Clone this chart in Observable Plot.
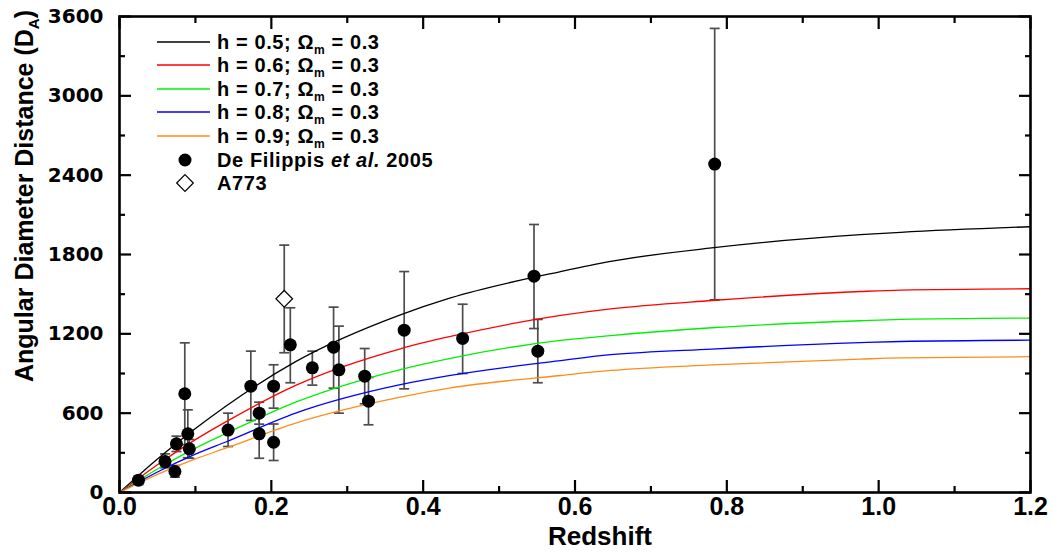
<!DOCTYPE html>
<html><head><meta charset="utf-8">
<script src="https://cdn.jsdelivr.net/npm/d3@7"></script>
<script src="https://cdn.jsdelivr.net/npm/@observablehq/plot@0.6"></script>
<style>body{margin:0;background:#fff} #chart{width:1055px;height:552px}</style>
</head><body><div id="chart"></div>
<script>
// Model curves
const curveZ   = [0, 0.05, 0.10, 0.14, 0.232, 0.37, 0.436, 0.581, 0.647, 0.78, 0.976, 1.029, 1.2];
const curveH05 = [0, 254, 484, 653, 990, 1344, 1472, 1671, 1748, 1850, 1950, 1968, 2010];
const curveH06 = [0, 210, 400, 534, 810, 1087, 1180, 1339, 1389, 1452, 1520, 1531, 1541];
const curveH07 = [0, 178, 336, 446, 683, 930, 1015, 1150, 1187, 1246, 1299, 1309, 1319];
const curveH08 = [0, 155, 290, 382, 600, 815, 885, 998, 1042, 1085, 1133, 1142, 1152];
const curveH09 = [0, 137, 254, 335, 525, 721, 791, 885, 923, 965, 1009, 1018, 1027];
const seriesH = ["0.5", "0.6", "0.7", "0.8", "0.9"];
const seriesColors = ["#000000", "#ff0000", "#00f000", "#0000ff", "#ff8c1a"];

// De Filippis et al. 2005
const deZ  = [0.025,0.060,0.073,0.075,0.086,0.090,0.092,0.143,0.173,0.184,0.184,0.203,0.203,0.225,0.254,0.282,0.289,0.323,0.328,0.375,0.452,0.546,0.551,0.784];
const deDA = [93,234,159,368,747,444,330,472,804,600,444,804,380,1117,943,1099,928,880,691,1228,1165,1636,1069,2484];
const deLo = [60,187,116,310,362,263,259,348,545,517,259,638,242,830,812,789,600,671,512,784,900,1240,830,1457];
const deHi = [125,292,204,426,1132,625,401,600,1069,683,629,966,518,1397,1069,1402,1258,1089,870,1671,1424,2027,1309,3510];

// A773
const a773Z = [0.217], a773DA = [1465], a773Lo = [1057], a773Hi = [1871];

const xMajor = [0,0.2,0.4,0.6,0.8,1.0,1.2];
const xMinor = [0.1,0.3,0.5,0.7,0.9,1.1];
const yMajor = [0,600,1200,1800,2400,3000,3600];
const yMinor = [300,900,1500,2100,2700,3300];

const curves = [curveH05,curveH06,curveH07,curveH08,curveH09];
const curveRows = curves.flatMap((arr,i) => arr.map((d,j) => ({z: curveZ[j], d, s: seriesH[i]})));
const deRows = deZ.map((z,i) => ({z, d: deDA[i], lo: deLo[i], hi: deHi[i]}));
const aRows = a773Z.map((z,i) => ({z, d: a773DA[i], lo: a773Lo[i], hi: a773Hi[i]}));
const errRows = [...deRows, ...aRows];
const capRows = errRows.flatMap(r => [{z: r.z, v: r.lo}, {z: r.z, v: r.hi}]);

const capSymbol = {draw(ctx, size){ const r = Math.sqrt(size/Math.PI); ctx.moveTo(-r,0); ctx.lineTo(r,0); }};

const narrow = "'Liberation Sans Narrow', 'Arial Narrow', 'Liberation Sans', Arial, sans-serif";
const sans = "'Liberation Sans', Arial, sans-serif";

const plot = Plot.plot({
  width: 1055, height: 552,
  marginLeft: 119, marginRight: 25, marginTop: 16, marginBottom: 60,
  x: {domain: [0, 1.2]},
  y: {domain: [0, 3600]},
  color: {domain: seriesH, range: seriesColors},
  style: {background: "white", fontFamily: sans},
  marks: [
    Plot.ruleX(errRows, {x: "z", y1: "lo", y2: "hi", stroke: "#4d4d4d", strokeWidth: 1.7}),
    Plot.dot(capRows, {x: "z", y: "v", symbol: capSymbol, r: 5, stroke: "#4d4d4d", strokeWidth: 1.7}),
    Plot.line(curveRows, {x: "z", y: "d", z: "s", stroke: "s", curve: "monotone-x", strokeWidth: 1.3}),
    Plot.dot(deRows, {x: "z", y: "d", fill: "black", r: 6.5}),
    Plot.dot(aRows, {x: "z", y: "d", symbol: "diamond2", r: 7.5, fill: "white", stroke: "black", strokeWidth: 1.2}),
    // ticks (inward, on all four sides)
    Plot.axisX({ticks: xMajor, tickSize: -12, tickFormat: () => "", strokeWidth: 2.2, label: null}),
    Plot.axisX({ticks: xMinor, tickSize: -6, tickFormat: () => "", strokeWidth: 2.2, label: null}),
    Plot.axisX({anchor: "top", ticks: xMajor, tickSize: -12, tickFormat: () => "", strokeWidth: 2.2, label: null}),
    Plot.axisX({anchor: "top", ticks: xMinor, tickSize: -6, tickFormat: () => "", strokeWidth: 2.2, label: null}),
    Plot.axisY({ticks: yMajor, tickSize: -12, tickFormat: () => "", strokeWidth: 2.2, label: null}),
    Plot.axisY({ticks: yMinor, tickSize: -6, tickFormat: () => "", strokeWidth: 2.2, label: null}),
    Plot.axisY({anchor: "right", ticks: yMajor, tickSize: -12, tickFormat: () => "", strokeWidth: 2.2, label: null}),
    Plot.axisY({anchor: "right", ticks: yMinor, tickSize: -6, tickFormat: () => "", strokeWidth: 2.2, label: null}),
    // tick labels
    Plot.axisX({ticks: xMajor, tickSize: 0, tickPadding: 5, tickFormat: d3.format(".1f"), fontSize: 25, fontWeight: "bold", fontFamily: narrow, fill: "black", label: null}),
    Plot.axisY({ticks: yMajor, tickSize: 0, tickPadding: 16, tickFormat: d => String(d), fontSize: 20, fontWeight: "bold", fontFamily: "'DejaVu Sans', sans-serif", fill: "black", label: null}),
    Plot.frame({stroke: "black", strokeWidth: 2.6})
  ]
});
document.getElementById("chart").appendChild(plot);

const svg = d3.select(plot);
// x axis title
svg.append("text").attr("x", 600).attr("y", 545).attr("text-anchor", "middle")
  .attr("font-family", narrow).attr("font-weight", "bold").attr("font-size", 26).attr("fill", "black")
  .text("Redshift");
// y axis title
const yt = svg.append("text").attr("transform", "translate(33,196) rotate(-90)").attr("text-anchor", "middle")
  .attr("font-family", narrow).attr("font-weight", "bold").attr("font-size", 25).attr("fill", "black");
yt.append("tspan").text("Angular Diameter Distance (D");
yt.append("tspan").attr("dy", 6).attr("font-size", 15).text("A");
yt.append("tspan").attr("dy", -6).text(")");

// legend
const lg = svg.append("g").attr("font-family", sans).attr("font-weight", "bold").attr("font-size", 20)
  .attr("letter-spacing", 0.6).attr("text-anchor", "start").attr("fill", "black");
const rowY = [42, 65, 89, 112, 136];
seriesH.forEach((h, i) => {
  lg.append("line").attr("x1", 157).attr("x2", 210).attr("y1", rowY[i]).attr("y2", rowY[i])
    .attr("stroke", seriesColors[i]).attr("stroke-width", 1.3);
  const t = lg.append("text").attr("x", 217).attr("y", rowY[i] + 7);
  t.append("tspan").text(`h = ${h}; \u03A9`);
  t.append("tspan").attr("dy", 5).attr("font-size", 12).text("m");
  t.append("tspan").attr("dy", -5).text(" = 0.3");
});
lg.append("circle").attr("cx", 185).attr("cy", 160).attr("r", 6.5).attr("fill", "black");
const t2 = lg.append("text").attr("x", 217).attr("y", 167);
t2.append("tspan").text("De Filippis ");
t2.append("tspan").attr("font-style", "italic").text("et al.");
t2.append("tspan").text(" 2005");
lg.append("path").attr("d", d3.symbol(d3.symbolDiamond2, Math.PI * 7.5 * 7.5)()).attr("transform", "translate(185,183)")
  .attr("fill", "white").attr("stroke", "black").attr("stroke-width", 1.2);
lg.append("text").attr("x", 217).attr("y", 190).text("A773");
</script></body></html>
